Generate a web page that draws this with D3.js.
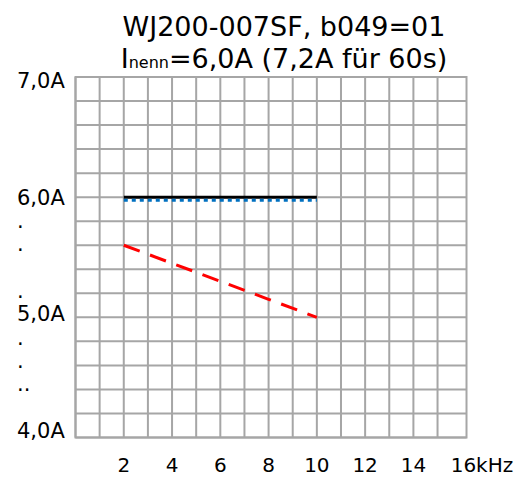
<!DOCTYPE html>
<html><head><meta charset="utf-8">
<script src="https://cdn.jsdelivr.net/npm/d3@7"></script>
<style>body{margin:0;background:#fff}svg{display:block}</style>
</head><body>
<script>
// ---- data ----
const freqs = [2, 4, 6, 8, 10];                 // kHz
const ratedCurrent = [6.0, 6.0, 6.0, 6.0, 6.0];  // black solid
const blueCurrent = [5.975, 5.975, 5.975, 5.975, 5.975]; // blue dotted
const redCurrent = [5.6, 5.45, 5.3, 5.15, 5.0];  // red dashed
const xTickValues = [2, 4, 6, 8, 10, 12, 14, 16];
const xTickLabels = ["2", "4", "6", "8", "10", "12", "14", "16kHz"];
const yTickValues = [7.0, 6.0, 5.8, 5.6, 5.2, 5.0, 4.8, 4.6, 4.4, 4.0];
const yTickLabels = ["7,0A", "6,0A", ".", ".", ".", "5,0A", ".", ".", "..", "4,0A"];
const titleLine1 = "WJ200-007SF, b049=01";
const titleLine2 = ["I", "nenn", "=6,0A (7,2A für 60s)"];

const W = 527, H = 477;
const svg = d3.select("body").append("svg").attr("width", W).attr("height", H)
  .style("font-family", "'DejaVu Sans', Verdana, sans-serif");

const x = d3.scaleLinear().domain([0, 16.2]).range([75.5, 466.5]);
const y = d3.scaleLinear().domain([4, 7]).range([437.5, 77]);
// label baselines (the label column is spaced slightly tighter than the grid)
const yLabel = d3.scaleLinear().domain([4, 7]).range([438, 88]);

// grid
const grid = svg.append("g").attr("stroke", "#a6a6a6").attr("stroke-width", 2);
grid.selectAll("line.v").data(d3.range(0, 16)).join("line")
  .attr("x1", d => x(d)).attr("x2", d => x(d)).attr("y1", y(7)).attr("y2", y(4));
grid.selectAll("line.h").data(d3.range(0, 16).map(i => 4 + i * 0.2)).join("line")
  .attr("x1", x(0)).attr("x2", x(16.2)).attr("y1", d => y(d)).attr("y2", d => y(d));
grid.append("rect").attr("x", x(0)).attr("y", y(7)).attr("width", x(16.2) - x(0))
  .attr("height", y(4) - y(7)).attr("fill", "none");

// lines
const line = vals => d3.line().x((d, i) => x(freqs[i])).y(d => y(d))(vals);
svg.append("path").attr("d", line(ratedCurrent)).attr("fill", "none")
  .attr("stroke", "#000").attr("stroke-width", 3);
svg.append("path").attr("d", line(blueCurrent)).attr("fill", "none")
  .attr("stroke", "#0070c0").attr("stroke-width", 3).attr("stroke-dasharray", "4,4");
svg.append("path").attr("d", line(redCurrent)).attr("fill", "none")
  .attr("stroke", "#ff0000").attr("stroke-width", 3).attr("stroke-dasharray", "17,11");

// y labels
svg.append("g").selectAll("text").data(yTickValues).join("text")
  .attr("x", 17).attr("y", d => yLabel(d))
  .attr("font-size", 21).attr("fill", "#000")
  .text((d, i) => yTickLabels[i]);

// x labels
svg.append("g").selectAll("text").data(xTickValues).join("text")
  .attr("x", (d, i) => i === xTickValues.length - 1 ? x(d) - 11 : x(d))
  .attr("y", 472)
  .attr("text-anchor", (d, i) => i === xTickValues.length - 1 ? "start" : "middle")
  .attr("font-size", 20).attr("fill", "#000")
  .text((d, i) => xTickLabels[i]);

// title
const cx = 284;
svg.append("text").attr("x", cx).attr("y", 36).attr("text-anchor", "middle")
  .attr("font-size", 27).text(titleLine1);
const t2 = svg.append("text").attr("x", cx).attr("y", 68).attr("text-anchor", "middle")
  .attr("font-size", 27);
t2.append("tspan").text(titleLine2[0]);
t2.append("tspan").attr("font-size", 16).text(titleLine2[1]);
t2.append("tspan").text(titleLine2[2]);
</script>
</body></html>
